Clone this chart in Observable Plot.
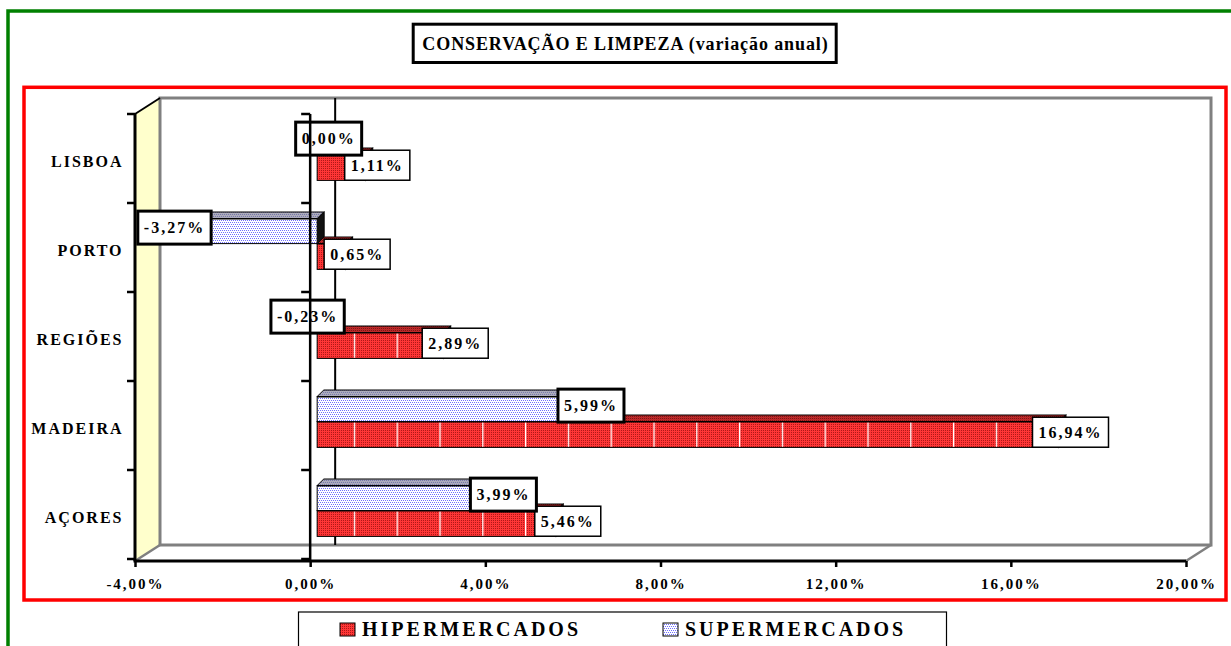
<!DOCTYPE html>
<html lang="pt">
<head>
<meta charset="utf-8">
<script src="https://cdn.jsdelivr.net/npm/d3@7"></script>
<script src="https://cdn.jsdelivr.net/npm/@observablehq/plot@0.6"></script>
<style>
html,body{margin:0;padding:0;background:#fff;}
body{width:1231px;height:646px;overflow:hidden;position:relative;font-family:"Liberation Serif","Times New Roman",serif;}
#deco,#chart{position:absolute;left:0;top:0;}
</style>
</head>
<body>
<svg id="deco" width="1231" height="646"></svg>
<div id="chart"></div>
<script>
// ---------- data ----------
const categories = ["LISBOA", "PORTO", "REGIÕES", "MADEIRA", "AÇORES"];
const hiperValues = [1.11, 0.65, 2.89, 16.94, 5.46];
const superValues = [0.00, -3.27, -0.23, 5.99, 3.99];
const xTicks = [-4, 0, 4, 8, 12, 16, 20];
const seriesNames = ["HIPERMERCADOS", "SUPERMERCADOS"];
const titleText = "CONSERVAÇÃO E LIMPEZA (variação anual)";

// ---------- layout / style ----------
const W = 1231, H = 646;
const M = {left: 135, right: 45, top: 114, bottom: 85};
const BW = (H - M.top - M.bottom) / categories.length;
const D = 7;              // bar depth (px)
const WX = 25, WY = -16;  // wall depth (px)
const FONT = "'Liberation Serif','Times New Roman',serif";
const fmt = v => v.toFixed(2).replace(".", ",") + "%";
const NS = "http://www.w3.org/2000/svg";
// distinct constant fills used to identify mark groups after rendering
const C = {hTop: "url(#pRedTop)", sTop: "url(#pBlueTop)", hSide: "#5c0000", sSide: "#111111",
           hLbl: "#010101", sLbl: "#020202"};

// ---------- decorations (patterns, borders, title, legend) ----------
const deco = d3.select("#deco");
const defs = deco.append("defs");
function pat(id, w, h, bg, dots, dotColor) {
  const p = defs.append("pattern").attr("id", id).attr("patternUnits", "userSpaceOnUse")
    .attr("width", w).attr("height", h);
  p.append("rect").attr("width", w).attr("height", h).attr("fill", bg);
  dots.forEach(([x, y]) => p.append("rect").attr("x", x).attr("y", y)
    .attr("width", 1).attr("height", 1).attr("fill", dotColor));
}
pat("pRed", 2, 2, "#ff3636", [[0, 0]], "#b01818");
pat("pRedTop", 2, 2, "#c42a2a", [[0, 0]], "#6a1010");
pat("pBlue", 4, 4, "#ffffff", [[0, 0], [2, 0], [1, 2], [3, 2]], "#6f6fff");
pat("pBlueTop", 4, 4, "#b0b0bc", [[0, 0], [2, 0], [1, 2], [3, 2]], "#6868a8");
const pl = defs.append("pattern").attr("id", "pLines").attr("patternUnits", "userSpaceOnUse")
  .attr("x", 4.4).attr("width", 42.8).attr("height", 4);
pl.append("rect").attr("width", 1.3).attr("height", 4).attr("fill", "#fff");

deco.append("rect").attr("x", 8).attr("y", 11).attr("width", 1400).attr("height", 900)
  .attr("fill", "none").attr("stroke", "#008000").attr("stroke-width", 3.5);
deco.append("rect").attr("x", 24).attr("y", 87.3).attr("width", 1202).attr("height", 512.7)
  .attr("fill", "none").attr("stroke", "#ff0000").attr("stroke-width", 3.5);

deco.append("rect").attr("x", 413.2).attr("y", 24.2).attr("width", 423).attr("height", 38.3)
  .attr("fill", "#fff").attr("stroke", "#000").attr("stroke-width", 3);
deco.append("text").attr("x", 625.5).attr("y", 49.5).attr("text-anchor", "middle")
  .attr("font-family", FONT).attr("font-weight", "bold").attr("font-size", 18)
  .style("letter-spacing", "0.9px").text(titleText);

deco.append("rect").attr("x", 298.5).attr("y", 612).attr("width", 648).attr("height", 60)
  .attr("fill", "#fff").attr("stroke", "#000").attr("stroke-width", 1.2);
const legendX = [340, 663];
const legendFill = ["url(#pRed)", "url(#pBlue)"];
seriesNames.forEach((name, i) => {
  deco.append("rect").attr("x", legendX[i]).attr("y", 623).attr("width", 15).attr("height", 13)
    .attr("fill", legendFill[i]).attr("stroke", "#000").attr("stroke-width", 1);
  deco.append("text").attr("x", legendX[i] + 22).attr("y", 636)
    .attr("font-family", FONT).attr("font-weight", "bold").attr("font-size", 20)
    .style("letter-spacing", "3px").text(name);
});

// ---------- chart ----------
const hiperRows = categories.map((cat, i) => ({cat, v: hiperValues[i]}));
const superRows = categories.map((cat, i) => ({cat, v: superValues[i]}));
const nz = d => d.v !== 0;
const lo = d => Math.min(0, d.v), hi = d => Math.max(0, d.v);
const band = (top, bottom) => ({insetTop: top, insetBottom: BW - bottom});
const lblFont = {fontSize: 16, fontWeight: "bold", fontFamily: FONT};

const plot = Plot.plot({
  width: W, height: H,
  marginLeft: M.left, marginRight: M.right, marginTop: M.top, marginBottom: M.bottom,
  x: {domain: [xTicks[0], xTicks[xTicks.length - 1]]},
  y: {domain: categories, padding: 0},
  style: {background: "transparent", fontFamily: FONT, fontWeight: "bold", color: "#000", overflow: "visible"},
  marks: [
    // 3D faces
    Plot.barX(hiperRows, {filter: nz, x1: lo, x2: hi, y: "cat", dx: D, ...band(33, 40),
      fill: C.hTop, stroke: "#000", strokeWidth: 1}),
    Plot.barX(hiperRows, {filter: nz, x1: hi, x2: hi, y: "cat", dx: D, ...band(40, 65.8),
      insetLeft: 0, insetRight: -D, fill: C.hSide, stroke: "#000", strokeWidth: 1}),
    Plot.barX(superRows, {filter: nz, x1: lo, x2: hi, y: "cat", dx: D, ...band(8, 15),
      fill: C.sTop, stroke: "#000", strokeWidth: 1}),
    Plot.barX(superRows, {filter: nz, x1: hi, x2: hi, y: "cat", dx: D, ...band(15, 40),
      insetLeft: 0, insetRight: -D, fill: C.sSide, stroke: "#000", strokeWidth: 1}),
    // front faces
    Plot.barX(superRows, {filter: nz, x1: lo, x2: hi, y: "cat", dx: D, ...band(15, 40),
      fill: "url(#pBlue)", stroke: "#000", strokeWidth: 1}),
    Plot.barX(hiperRows, {filter: nz, x1: lo, x2: hi, y: "cat", dx: D, ...band(40, 65.8),
      fill: "url(#pRed)", stroke: "#000", strokeWidth: 1}),
    Plot.barX(hiperRows, {filter: nz, x1: lo, x2: hi, y: "cat", dx: D, ...band(40.6, 65.2),
      fill: "url(#pLines)"}),
    // value labels
    Plot.text(hiperRows, {filter: d => d.v >= 0, x: "v", y: "cat", text: d => fmt(d.v),
      dx: D + 11, dy: 5.6, ...lblFont, fill: C.hLbl}),
    Plot.text(hiperRows, {filter: d => d.v < 0, x: "v", y: "cat", text: d => fmt(d.v),
      dx: D, dy: 5.6, ...lblFont, fill: C.hLbl}),
    Plot.text(superRows, {filter: d => d.v >= 0, x: "v", y: "cat", text: d => fmt(d.v),
      dx: D + 11, dy: -21, ...lblFont, fill: C.sLbl}),
    Plot.text(superRows, {filter: d => d.v < 0, x: "v", y: "cat", text: d => fmt(d.v),
      dx: D, dy: -21, ...lblFont, fill: C.sLbl}),
    // axes
    Plot.axisX({ticks: xTicks, tickFormat: fmt, tickSize: 6, tickPadding: 11, label: null,
      fontSize: 15, strokeWidth: 2.5}),
    Plot.axisY({tickSize: 0, tickPadding: 12, label: null, fontSize: 16, dy: 1.5})
  ]
});
document.getElementById("chart").append(plot);

// ---------- post-processing: 3D skew, label boxes, walls ----------
const svg = d3.select(plot);
const groupsByFill = f => svg.selectAll("g").filter(function () { return this.getAttribute("fill") === f; });

[C.hTop, C.sTop].forEach(f => groupsByFill(f).selectAll("rect").each(function () {
  const yb = +this.getAttribute("y") + +this.getAttribute("height");
  this.setAttribute("transform", `translate(0,${yb}) skewX(-45) translate(0,${-yb})`);
}));
[C.hSide, C.sSide].forEach(f => groupsByFill(f).selectAll("rect").each(function () {
  const x = +this.getAttribute("x");
  this.setAttribute("transform", `translate(${x},0) skewY(-45) translate(${-x},0)`);
}));

svg.selectAll('g[aria-label="x-axis tick label"]').attr("font-size", 15).style("letter-spacing", "2px");
svg.selectAll('g[aria-label="y-axis tick label"]').attr("font-size", 16).style("letter-spacing", "2px");
svg.selectAll('g[aria-label="x-axis tick"]').attr("stroke-width", 2.5);

function boxify(fill, h, sw) {
  groupsByFill(fill).style("letter-spacing", "2px").selectAll("text").each(function () {
    const b = this.getBBox();
    const padX = 6;
    const r = document.createElementNS(NS, "rect");
    r.setAttribute("x", b.x - padX);
    r.setAttribute("y", b.y + b.height / 2 - h / 2);
    r.setAttribute("width", b.width + 2 * padX);
    r.setAttribute("height", h);
    r.setAttribute("fill", "#fff");
    r.setAttribute("stroke", "#000");
    r.setAttribute("stroke-width", sw);
    const t = this.getAttribute("transform");
    if (t) r.setAttribute("transform", t);
    this.parentNode.insertBefore(r, this);
  });
}
boxify(C.hLbl, 30, 1.5);
boxify(C.sLbl, 33, 3);

const xs = plot.scale("x"), ys = plot.scale("y");
const X = v => xs.apply(v);
const y0 = M.top, y1 = H - M.bottom;
const xL = X(xTicks[0]), xR = X(xTicks[xTicks.length - 1]), x0 = X(0);
const bounds = d3.range(categories.length + 1).map(i => y0 + i * ys.bandwidth);

// walls (behind)
const back = svg.insert("g", ":first-child");
back.append("polygon")
  .attr("points", [[xL, y0], [xL + WX, y0 + WY], [xL + WX, y1 + WY], [xL, y1]].map(p => p.join(",")).join(" "))
  .attr("fill", "#ffffcc");
back.append("rect").attr("x", xL + WX).attr("y", y0 + WY).attr("width", xR - xL).attr("height", y1 - y0)
  .attr("fill", "none").attr("stroke", "#808080").attr("stroke-width", 3);
back.append("line").attr("x1", xL).attr("y1", y1).attr("x2", xL + WX).attr("y2", y1 + WY)
  .attr("stroke", "#808080").attr("stroke-width", 2.5);
back.append("line").attr("x1", xR).attr("y1", y1).attr("x2", xR + WX).attr("y2", y1 + WY)
  .attr("stroke", "#808080").attr("stroke-width", 2.5);
back.append("line").attr("x1", x0 + WX).attr("y1", y0 + WY).attr("x2", x0 + WX).attr("y2", y1 + WY)
  .attr("stroke", "#000").attr("stroke-width", 2);

// front axis lines (on top)
const front = svg.append("g").attr("stroke", "#000");
front.append("line").attr("x1", xL).attr("y1", y0).attr("x2", xL + WX).attr("y2", y0 + WY).attr("stroke-width", 2);
front.append("line").attr("x1", xL).attr("y1", y0).attr("x2", xL).attr("y2", y1).attr("stroke-width", 3);
front.append("line").attr("x1", x0).attr("y1", y0).attr("x2", x0).attr("y2", y1).attr("stroke-width", 2.5);
front.append("line").attr("x1", xL - 1.5).attr("y1", y1).attr("x2", xR).attr("y2", y1).attr("stroke-width", 3);
bounds.forEach(b => {
  front.append("line").attr("x1", xL - 8).attr("y1", b).attr("x2", xL).attr("y2", b).attr("stroke-width", 2.5);
  front.append("line").attr("x1", x0 - 9).attr("y1", b).attr("x2", x0).attr("y2", b).attr("stroke-width", 2.5);
});
</script>
</body>
</html>
